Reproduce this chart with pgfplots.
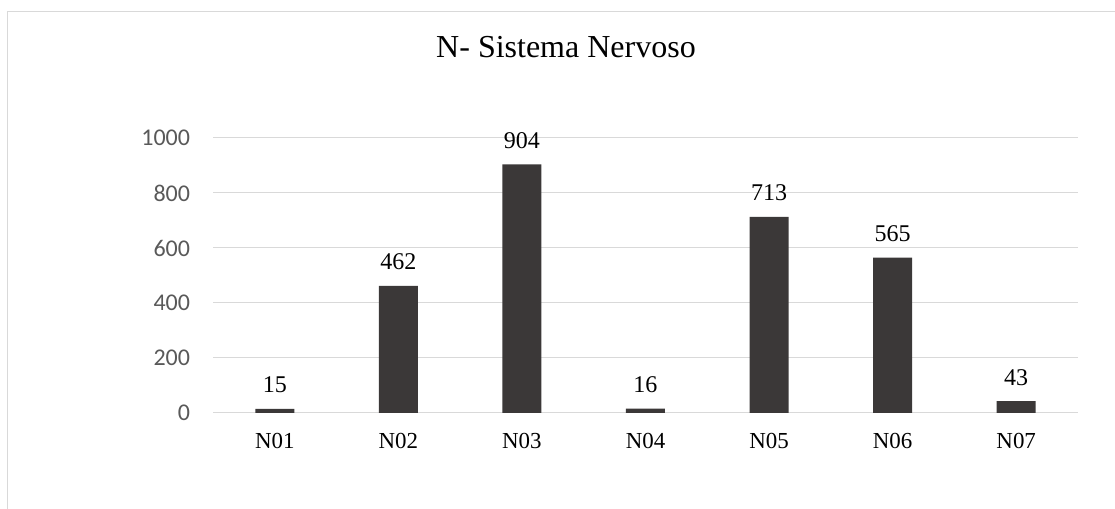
\documentclass[border=0pt]{standalone}
\usepackage{pgfplots}
\pgfplotsset{compat=1.18}
\usepackage{fontspec}
\setmainfont{Liberation Serif}
\newfontfamily\calib{Carlito}
\definecolor{barc}{HTML}{3B3838}
\definecolor{gridc}{HTML}{D9D9D9}
\definecolor{tickc}{HTML}{595959}
\def\u{0.75pt}
\begin{document}
\begin{tikzpicture}
\path[use as bounding box] (0,0) rectangle (1115*\u,-509*\u);
\draw[gridc, line width=1.2*\u] (7.5*\u,-520*\u) -- (7.5*\u,-11.5*\u) -- (1130*\u,-11.5*\u);
\node[anchor=base, font=\fontsize{24}{28}\selectfont] at (566*\u,-58*\u) {N- Sistema Nervoso};
\begin{axis}[
  at={(213*\u,-413*\u)}, anchor=south west,
  scale only axis, width=865*\u, height=275*\u,
  xmin=-0.5, xmax=6.5, ymin=0, ymax=1000,
  axis x line*=bottom, axis y line*=left,
  y axis line style={draw=none},
  x axis line style={draw=gridc, line width=\u},
  major tick length=0,
  ytick={0,200,...,1000},
  xtick={0,...,6},
  xticklabels={N01,N02,N03,N04,N05,N06,N07},
  ymajorgrids, grid style={draw=gridc, line width=\u},
  /pgf/number format/assume math mode=true,
  /pgf/number format/1000 sep={},
  yticklabel style={font=\calib\fontsize{18}{21}\selectfont, text=tickc, anchor=east, inner sep=0pt, xshift=-17pt},
  xticklabel style={font=\fontsize{17.2}{20}\selectfont, anchor=base, inner sep=0pt, yshift=-27pt},
  ybar, bar width=29.25pt,
  nodes near coords,
  every node near coord/.append style={font=\fontsize{18}{21}\selectfont, anchor=base, inner sep=0pt, yshift=12pt},
  clip=false,
]
\addplot[fill=barc, draw=none] coordinates {(0,15) (1,462) (2,904) (3,16) (4,713) (5,565) (6,43)};
\end{axis}
\end{tikzpicture}
\end{document}
